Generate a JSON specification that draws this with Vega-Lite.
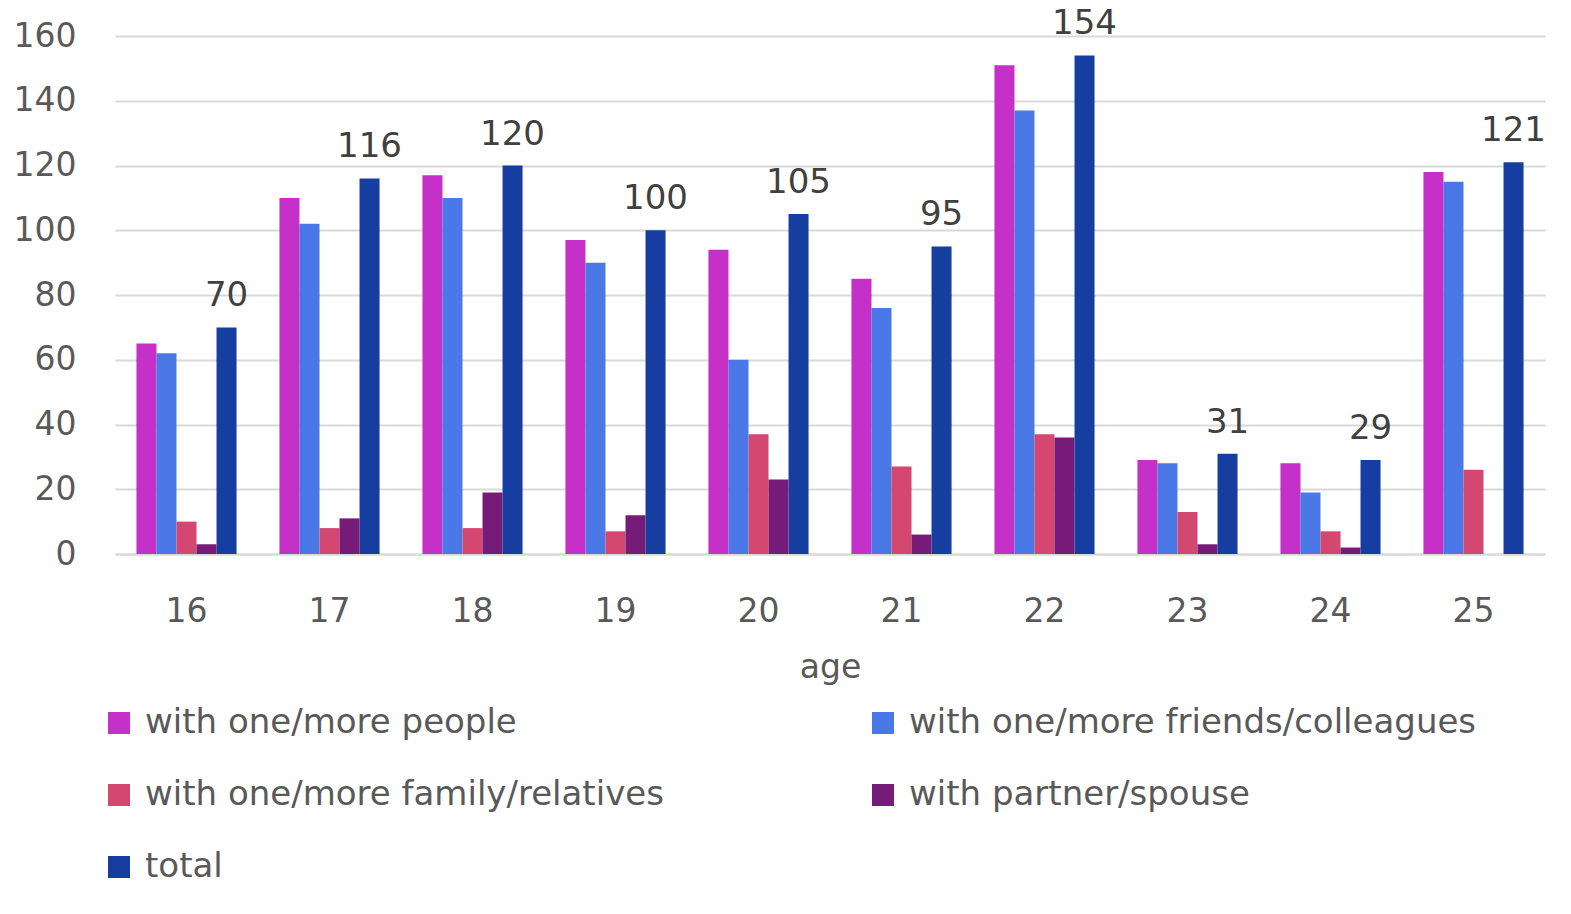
{
  "$schema": "https://vega.github.io/schema/vega-lite/v6.json",
  "autosize": "none",
  "width": 1430,
  "height": 518,
  "padding": {"left": 115, "top": 36, "right": 26, "bottom": 360},
  "background": "white",
  "config": {"view": {"stroke": null}, "font": "DejaVu Sans"},
  "data": {"values": [
    {"age": "16", "series": "with one/more people", "value": 65},
    {"age": "16", "series": "with one/more friends/colleagues", "value": 62},
    {"age": "16", "series": "with one/more family/relatives", "value": 10},
    {"age": "16", "series": "with partner/spouse", "value": 3},
    {"age": "16", "series": "total", "value": 70},
    {"age": "17", "series": "with one/more people", "value": 110},
    {"age": "17", "series": "with one/more friends/colleagues", "value": 102},
    {"age": "17", "series": "with one/more family/relatives", "value": 8},
    {"age": "17", "series": "with partner/spouse", "value": 11},
    {"age": "17", "series": "total", "value": 116},
    {"age": "18", "series": "with one/more people", "value": 117},
    {"age": "18", "series": "with one/more friends/colleagues", "value": 110},
    {"age": "18", "series": "with one/more family/relatives", "value": 8},
    {"age": "18", "series": "with partner/spouse", "value": 19},
    {"age": "18", "series": "total", "value": 120},
    {"age": "19", "series": "with one/more people", "value": 97},
    {"age": "19", "series": "with one/more friends/colleagues", "value": 90},
    {"age": "19", "series": "with one/more family/relatives", "value": 7},
    {"age": "19", "series": "with partner/spouse", "value": 12},
    {"age": "19", "series": "total", "value": 100},
    {"age": "20", "series": "with one/more people", "value": 94},
    {"age": "20", "series": "with one/more friends/colleagues", "value": 60},
    {"age": "20", "series": "with one/more family/relatives", "value": 37},
    {"age": "20", "series": "with partner/spouse", "value": 23},
    {"age": "20", "series": "total", "value": 105},
    {"age": "21", "series": "with one/more people", "value": 85},
    {"age": "21", "series": "with one/more friends/colleagues", "value": 76},
    {"age": "21", "series": "with one/more family/relatives", "value": 27},
    {"age": "21", "series": "with partner/spouse", "value": 6},
    {"age": "21", "series": "total", "value": 95},
    {"age": "22", "series": "with one/more people", "value": 151},
    {"age": "22", "series": "with one/more friends/colleagues", "value": 137},
    {"age": "22", "series": "with one/more family/relatives", "value": 37},
    {"age": "22", "series": "with partner/spouse", "value": 36},
    {"age": "22", "series": "total", "value": 154},
    {"age": "23", "series": "with one/more people", "value": 29},
    {"age": "23", "series": "with one/more friends/colleagues", "value": 28},
    {"age": "23", "series": "with one/more family/relatives", "value": 13},
    {"age": "23", "series": "with partner/spouse", "value": 3},
    {"age": "23", "series": "total", "value": 31},
    {"age": "24", "series": "with one/more people", "value": 28},
    {"age": "24", "series": "with one/more friends/colleagues", "value": 19},
    {"age": "24", "series": "with one/more family/relatives", "value": 7},
    {"age": "24", "series": "with partner/spouse", "value": 2},
    {"age": "24", "series": "total", "value": 29},
    {"age": "25", "series": "with one/more people", "value": 118},
    {"age": "25", "series": "with one/more friends/colleagues", "value": 115},
    {"age": "25", "series": "with one/more family/relatives", "value": 26},
    {"age": "25", "series": "with partner/spouse", "value": 0},
    {"age": "25", "series": "total", "value": 121}
  ]},
  "encoding": {
    "x": {
      "field": "age", "type": "nominal",
      "scale": {"paddingInner": 0.3, "paddingOuter": 0.15},
      "axis": {
        "title": "age", "labelAngle": 0, "labelFontSize": 33, "labelColor": "#595959",
        "labelPadding": 41, "ticks": false, "domainColor": "#d9d9d9", "domainWidth": 2,
        "titleFontSize": 33, "titleColor": "#595959", "titleFontWeight": "normal", "titlePadding": 23
      }
    },
    "xOffset": {
      "field": "series", "type": "nominal",
      "scale": {"domain": ["with one/more people", "with one/more friends/colleagues", "with one/more family/relatives", "with partner/spouse", "total"]}
    }
  },
  "layer": [
    {
      "mark": {"type": "bar"},
      "encoding": {
        "y": {
          "field": "value", "type": "quantitative",
          "scale": {"domain": [0, 160]},
          "axis": {
            "title": null, "values": [0,20,40,60,80,100,120,140,160], "labelOverlap": false,
            "labelFontSize": 33, "labelColor": "#595959", "labelPadding": 39,
            "ticks": false, "domain": false, "gridColor": "#d9d9d9", "gridWidth": 2
          }
        },
        "color": {
          "field": "series", "type": "nominal",
          "scale": {
            "domain": ["with one/more people", "with one/more friends/colleagues", "with one/more family/relatives", "with partner/spouse", "total"],
            "range": ["#c530c8", "#4a78e6", "#d44770", "#761c78", "#153ea0"]
          },
          "legend": {
            "title": null, "orient": "none", "legendX": -13, "legendY": 670,
            "direction": "horizontal", "columns": 2, "columnPadding": 202, "rowPadding": 38,
            "symbolType": "square", "symbolSize": 484, "symbolStrokeWidth": 0, "symbolOpacity": 1,
            "labelFontSize": 34, "labelColor": "#595959", "labelLimit": 900, "labelOffset": 9
          }
        }
      }
    },
    {
      "transform": [{"filter": "datum.series === 'total'"}],
      "mark": {"type": "text", "baseline": "alphabetic", "dy": -21, "fontSize": 34, "color": "#404040"},
      "encoding": {
        "y": {"field": "value", "type": "quantitative"},
        "text": {"field": "value", "type": "quantitative"}
      }
    }
  ]
}
